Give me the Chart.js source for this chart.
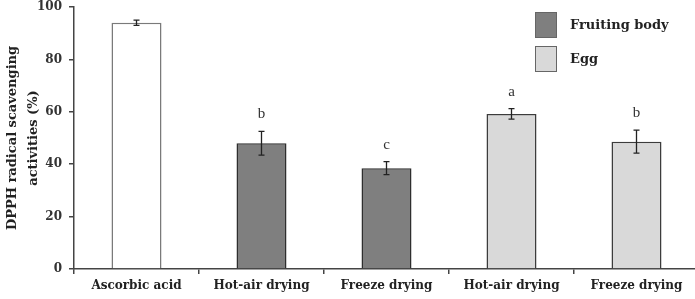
<!DOCTYPE html>
<html>
<head>
<meta charset="utf-8">
<script src="https://cdn.jsdelivr.net/npm/chart.js@4.4.0/dist/chart.umd.min.js"></script>
<style>
html,body{margin:0;padding:0;background:#fff;overflow:hidden;}
#wrap{width:695px;height:299px;position:relative;overflow:hidden;}
</style>
</head>
<body>
<div id="wrap"><canvas id="c" width="700" height="299"></canvas></div>
<script>
const categories = ['Ascorbic acid', 'Hot-air drying', 'Freeze drying', 'Hot-air drying', 'Freeze drying'];
const groups = ['control', 'fruiting', 'fruiting', 'egg', 'egg'];
const values = [94, 48, 38.5, 59.2, 48.6];
const errors = [1, 4.5, 2.5, 2, 4.4];
const letters = ['', 'b', 'c', 'a', 'b'];
const legendLabels = ['Fruiting body', 'Egg'];
const yTicks = [0, 20, 40, 60, 80, 100];
const yTitle = ['DPPH radical scavenging', 'activities (%)'];

const fillFor = {control: '#ffffff', fruiting: '#7f7f7f', egg: '#d9d9d9'};
const borderFor = {control: '#7a7a7a', fruiting: '#2e2e2e', egg: '#3c3c3c'};
const legendGroups = ['fruiting', 'egg'];
const serif = '"DejaVu Serif", "Liberation Serif", serif';

const extras = {
  id: 'extras',
  afterDatasetsDraw(chart) {
    const ctx = chart.ctx;
    const y = chart.scales.y;
    const meta = chart.getDatasetMeta(0);
    ctx.save();
    ctx.strokeStyle = '#222';
    ctx.lineWidth = 1.3;
    meta.data.forEach((bar, i) => {
      const x = bar.x;
      const top = y.getPixelForValue(values[i] + errors[i]);
      const bot = y.getPixelForValue(values[i] - errors[i]);
      ctx.beginPath();
      ctx.moveTo(x, top); ctx.lineTo(x, bot);
      ctx.moveTo(x - 3, top); ctx.lineTo(x + 3, top);
      ctx.moveTo(x - 3, bot); ctx.lineTo(x + 3, bot);
      ctx.stroke();
      if (letters[i]) {
        ctx.fillStyle = '#333';
        ctx.font = '15px "Liberation Serif", serif';
        ctx.textAlign = 'center';
        ctx.textBaseline = 'middle';
        ctx.fillText(letters[i], x, top - 17);
      }
    });
    // legend
    const bx = 535, by = [12, 46], bw = 22, bh = 26;
    legendLabels.forEach((lab, k) => {
      const g = legendGroups[k];
      ctx.fillStyle = fillFor[g];
      ctx.fillRect(bx, by[k], bw, bh);
      ctx.strokeStyle = '#666';
      ctx.lineWidth = 1;
      ctx.strokeRect(bx + 0.5, by[k] + 0.5, bw - 1, bh - 1);
      ctx.fillStyle = '#222';
      ctx.font = 'bold 13px ' + serif;
      ctx.textAlign = 'left';
      ctx.textBaseline = 'middle';
      ctx.fillText(lab, 570, by[k] + bh / 2 + 1);
    });
    ctx.restore();
  }
};

new Chart(document.getElementById('c'), {
  type: 'bar',
  data: {
    labels: categories,
    datasets: [{
      data: values,
      backgroundColor: groups.map(g => fillFor[g]),
      borderColor: groups.map(g => borderFor[g]),
      borderWidth: 1.5,
      barPercentage: 0.4,
      categoryPercentage: 1.0
    }]
  },
  options: {
    responsive: false,
    animation: false,
    devicePixelRatio: 1,
    layout: {padding: {top: 0, right: 1, left: 0, bottom: 0}},
    plugins: {legend: {display: false}, tooltip: {enabled: false}},
    scales: {
      x: {
        offset: true,
        grid: {display: true, offset: true, drawOnChartArea: false, drawTicks: true, tickLength: 5, color: '#444', lineWidth: 1.5},
        border: {display: true, color: '#444', width: 1.5},
        ticks: {color: '#222', padding: 5, font: {family: serif, weight: 'bold', size: 12}, maxRotation: 0, autoSkip: false},
        afterFit: s => { s.height = 30; }
      },
      y: {
        min: 0, max: 100,
        afterBuildTicks: s => { s.ticks = yTicks.map(v => ({value: v})); },
        grid: {display: true, drawOnChartArea: false, drawTicks: true, tickLength: 5, color: '#444', lineWidth: 1.5},
        border: {display: true, color: '#444', width: 1.5},
        ticks: {color: '#333', padding: 7, font: {family: serif, weight: 'bold', size: 12}},
        title: {display: true, text: yTitle, color: '#222', font: {family: serif, weight: 'bold', size: 13, lineHeight: 1.55}, padding: {top: 3, bottom: 0}},
        afterFit: s => { s.width = 74; s.paddingTop = 7; }
      }
    }
  },
  plugins: [extras]
});
</script>
</body>
</html>
